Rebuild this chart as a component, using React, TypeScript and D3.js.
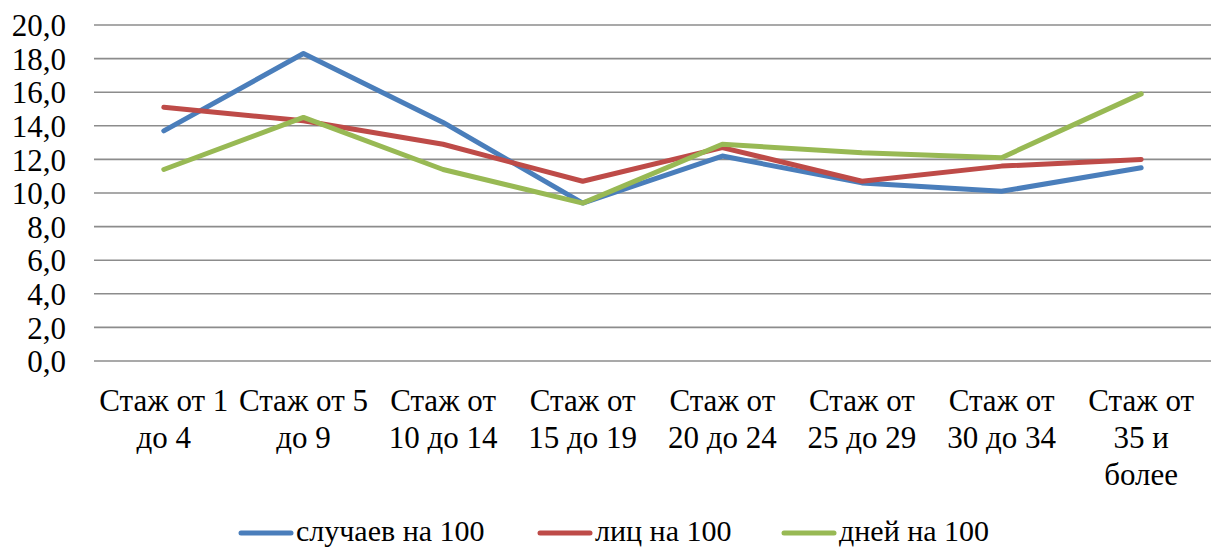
import React from 'react'
import * as d3 from 'd3'

const categories = [
  ['Стаж от 1', 'до 4'],
  ['Стаж от 5', 'до 9'],
  ['Стаж от', '10 до 14'],
  ['Стаж от', '15 до 19'],
  ['Стаж от', '20 до 24'],
  ['Стаж от', '25 до 29'],
  ['Стаж от', '30 до 34'],
  ['Стаж от', '35 и', 'более'],
]
const cases = [13.7, 18.3, 14.2, 9.4, 12.2, 10.6, 10.1, 11.5]
const persons = [15.1, 14.3, 12.9, 10.7, 12.7, 10.7, 11.6, 12.0]
const days = [11.4, 14.5, 11.4, 9.4, 12.9, 12.4, 12.1, 15.9]
const yTicks = [0, 2, 4, 6, 8, 10, 12, 14, 16, 18, 20]

const series = [
  { name: 'случаев на 100', values: cases, color: '#4a7ebb' },
  { name: 'лиц на 100', values: persons, color: '#be4b48' },
  { name: 'дней на 100', values: days, color: '#98b954' },
]

const W = 1217
const H = 549
const left = 94
const right = 1211
const top = 25
const bottom = 361
const font = "'Liberation Serif', Tinos, 'DejaVu Serif', 'Times New Roman', serif"

export default function App() {
  const x = d3
    .scalePoint<number>()
    .domain(d3.range(categories.length))
    .range([left, right])
    .padding(0.5)
  const y = d3.scaleLinear().domain([0, 20]).range([bottom, top])
  const line = d3
    .line<number>()
    .x((_, i) => x(i) as number)
    .y(d => y(d))

  // legend key starts
  const legendX = [239, 538, 782]
  const legendY = 530

  return (
    <svg
      width={W}
      height={H}
      style={{ position: 'absolute', left: 0, top: 0, background: '#fff', fontFamily: font }}
    >
      {yTicks.map(t => (
        <g key={t}>
          <line x1={left} x2={right} y1={y(t)} y2={y(t)} stroke="#8c8c8c" strokeWidth={1.6} />
          <text x={66} y={y(t)} dy="0.36em" textAnchor="end" fontSize={31} fill="#000">
            {d3.format('.1f')(t).replace('.', ',')}
          </text>
        </g>
      ))}
      {categories.map((lines, i) => (
        <text key={i} x={x(i)} y={400} textAnchor="middle" fontSize={31} fill="#000">
          {lines.map((l, j) => (
            <tspan key={j} x={x(i)} y={400 + j * 37} dy="0.36em">
              {l}
            </tspan>
          ))}
        </text>
      ))}
      {series.map(s => (
        <path
          key={s.name}
          d={line(s.values) || ''}
          fill="none"
          stroke={s.color}
          strokeWidth={5}
          strokeLinejoin="round"
          strokeLinecap="round"
        />
      ))}
      {series.map((s, i) => (
        <g key={s.name}>
          <line
            x1={legendX[i] + 2}
            x2={legendX[i] + 52}
            y1={legendY + 3}
            y2={legendY + 3}
            stroke={s.color}
            strokeWidth={5}
            strokeLinecap="round"
          />
          <text x={legendX[i] + 57} y={legendY} dy="0.36em" fontSize={30} fill="#000">
            {s.name}
          </text>
        </g>
      ))}
    </svg>
  )
}
